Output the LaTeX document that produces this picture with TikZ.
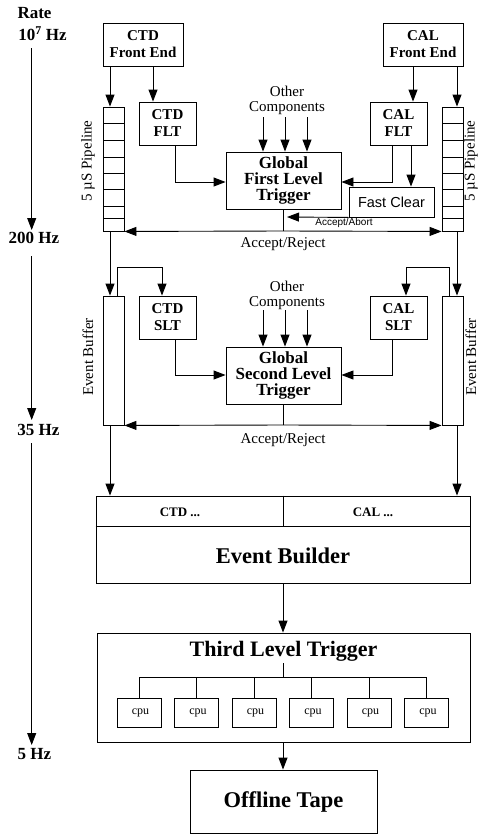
\documentclass[tikz,border=0pt]{standalone}
\usepackage{fontspec}
\setmainfont{Liberation Serif}
\setsansfont{Liberation Sans}
\usetikzlibrary{arrows.meta}
\begin{document}
\begin{tikzpicture}[x=1pt,y=-1pt,
  line width=0.9pt,
  arr/.style={-{Triangle[length=12pt,width=9pt]}},
  box/.style={draw, rectangle, inner sep=0pt, align=center},
  smallbox/.style={box, minimum width=57pt, minimum height=43pt, font=\fontsize{15}{17}\selectfont\bfseries},
  febox/.style={box, minimum width=80pt, minimum height=43pt, font=\fontsize{15}{17}\selectfont\bfseries},
  glbox/.style={box, minimum width=115pt, minimum height=57pt, font=\fontsize{17}{16}\selectfont\bfseries},
  tallbox/.style={box, minimum width=21pt},
  plain/.style={font=\fontsize{15}{15}\selectfont, align=center, inner sep=0pt},
  ratelbl/.style={font=\fontsize{17}{19}\selectfont\bfseries, inner sep=0pt},
  bigbold/.style={font=\fontsize{22.5}{24}\selectfont\bfseries, inner sep=0pt},
  cpubox/.style={box, minimum width=44pt, minimum height=29pt, font=\fontsize{12}{14}\selectfont},
]
\useasboundingbox (0,0) rectangle (479,835);

% ---------- helper coordinates ----------
\coordinate (xa) at (110,0);
\coordinate (xb) at (153,0);
\coordinate (xc) at (175,0);
\coordinate (xd) at (392,0);
\coordinate (xe) at (413,0);
\coordinate (xf) at (457,0);
\coordinate (xg) at (411,0);
\coordinate (xh) at (117,0);
\coordinate (xi) at (162,0);
\coordinate (xj) at (449,0);
\coordinate (xk) at (406,0);
\coordinate (xm) at (283,0);
\coordinate (y1) at (0,182);
\coordinate (y2) at (0,267);
\coordinate (y3) at (0,375);
\coordinate (yar1) at (0,231);
\coordinate (yar2) at (0,425);
\coordinate (ytree) at (0,677);

% ---------- Rate column ----------
\node[ratelbl] (rate) at (34.5,13) {Rate};
\node[ratelbl] (r107) at (42.5,34) {10\textsuperscript{7} Hz};
\node[ratelbl] (r200) at (34,237.5) {200 Hz};
\node[ratelbl] (r35) at (38.5,430) {35 Hz};
\node[ratelbl] (r5) at (34.5,754) {5 Hz};
\coordinate (ra1) at (31.7,48);  \coordinate (rb1) at (31.7,230);
\coordinate (ra2) at (31.7,256); \coordinate (rb2) at (31.7,420);
\coordinate (ra3) at (31.7,443); \coordinate (rb3) at (31.7,745);
\draw[arr] (ra1) -- (rb1);
\draw[arr] (ra2) -- (rb2);
\draw[arr] (ra3) -- (rb3);

% ---------- First level ----------
\node[febox] (ctdfe) at (143,44.5) {CTD\\Front End};
\node[febox] (calfe) at (423,44.5) {CAL\\Front End};
\node[smallbox] (ctdflt) at (167.5,123.5) {CTD\\FLT};
\node[smallbox] (calflt) at (398.5,123.5) {CAL\\FLT};
\node[glbox] (gflt) at (283.5,180.5) {Global\\First Level\\Trigger};
\node[box, minimum width=85pt, minimum height=30pt, font=\sffamily\fontsize{14.5}{16}\selectfont] (fc) at (391.5,202) {Fast Clear};

\node[tallbox, minimum height=124pt] (pipeL) at (113.5,169) {};
\node[tallbox, minimum height=124pt] (pipeR) at (452.5,169) {};
\foreach \yy in {123,140,157,173,189,206,218} {
  \draw (103,\yy) -- (124,\yy);
  \draw (442,\yy) -- (463,\yy);
}
\node[plain, rotate=90] (plL) at (88,161) {5 µS Pipeline};
\node[plain, rotate=90] (plR) at (471,161) {5 µS Pipeline};

\draw[arr] (ctdfe.south -| xa) -- (pipeL.north -| xa);
\draw[arr] (ctdfe.south -| xb) -- (ctdflt.north -| xb);
\draw[arr] (calfe.south -| xe) -- (calflt.north -| xe);
\draw[arr] (calfe.south -| xf) -- (pipeR.north -| xf);
\draw[arr] (ctdflt.south -| xc) |- (gflt.west |- y1);
\draw[arr] (calflt.south -| xd) |- (gflt.east |- y1);
\draw[arr] (calflt.south -| xg) -- (fc.north -| xg);

\node[plain] (oc1) at (287,100) {Other\\Components};
\foreach \xx in {263,285,307} {
  \coordinate (oa\xx) at (\xx,117);
  \draw[arr] (oa\xx) -- (oa\xx |- gflt.north);
}

\coordinate (aaend) at (287,217);
\draw[arr] (fc.south west) -- (aaend);
\node[font=\sffamily\fontsize{10}{12}\selectfont, inner sep=0pt] (aa) at (344,222.5) {Accept/Abort};

\draw (gflt.south -| xm) -- (xm |- yar1);
\draw[arr] (xm |- yar1) -- (pipeL.south east);
\draw[arr] (xm |- yar1) -- (pipeR.south west);
\node[plain] (ar1) at (283,244) {Accept/Reject};

% ---------- Second level ----------
\node[tallbox, minimum height=129pt] (ebL) at (113.5,360.5) {};
\node[tallbox, minimum height=129pt] (ebR) at (452.5,360.5) {};
\node[plain, rotate=90] (ebLt) at (88,357) {Event Buffer};
\node[plain, rotate=90] (ebRt) at (471,357) {Event Buffer};
\node[smallbox] (ctdslt) at (167.5,317.5) {CTD\\SLT};
\node[smallbox] (calslt) at (398.5,317.5) {CAL\\SLT};
\node[glbox] (gslt) at (283.5,375.5) {Global\\Second Level\\Trigger};

\draw[arr] (pipeL.south -| xa) -- (ebL.north -| xa);
\draw[arr] (pipeR.south -| xf) -- (ebR.north -| xf);
\draw[arr] (ebL.north -| xh) -- (xh |- y2) -| (ctdslt.north -| xi);
\draw[arr] (ebR.north -| xj) -- (xj |- y2) -| (calslt.north -| xk);
\draw[arr] (ctdslt.south -| xc) |- (gslt.west |- y3);
\draw[arr] (calslt.south -| xd) |- (gslt.east |- y3);

\node[plain] (oc2) at (287,295) {Other\\Components};
\foreach \xx in {263,285,307} {
  \coordinate (ob\xx) at (\xx,310);
  \draw[arr] (ob\xx) -- (ob\xx |- gslt.north);
}

\draw (gslt.south -| xm) -- (xm |- yar2);
\draw[arr] (xm |- yar2) -- (ebL.south east);
\draw[arr] (xm |- yar2) -- (ebR.south west);
\node[plain] (ar2) at (283,440) {Accept/Reject};

% ---------- Event builder ----------
\node[box, minimum width=374pt, minimum height=87pt] (evb) at (283,539.5) {};
\coordinate (ydiv) at (0,526);
\draw (evb.west |- ydiv) -- (evb.east |- ydiv);
\draw (evb.north -| xm) -- (xm |- ydiv);
\node[font=\fontsize{13}{15}\selectfont\bfseries, inner sep=0pt] (ctddots) at (180,512) {CTD ...};
\node[font=\fontsize{13}{15}\selectfont\bfseries, inner sep=0pt] (caldots) at (373,512) {CAL ...};
\node[bigbold] (evbt) at (283,556) {Event Builder};

\draw[arr] (ebL.south -| xa) -- (evb.north -| xa);
\draw[arr] (ebR.south -| xf) -- (evb.north -| xf);

% ---------- Third level ----------
\node[box, minimum width=373pt, minimum height=109pt] (tlt) at (283.5,687.5) {};
\node[font=\fontsize{22}{24}\selectfont\bfseries, inner sep=0pt] (tltt) at (283.5,651) {Third Level Trigger};
\draw[arr] (evb.south -| xm) -- (tlt.north -| xm);

\foreach \i in {0,...,5} {
  \node[cpubox] (cpu\i) at ({139+57.5*\i},712.5) {\hspace{3pt}cpu};
}
\coordinate (tr) at (283,663);
\draw (tr) -- (tr |- ytree);
\draw (cpu0.north |- ytree) -- (cpu5.north |- ytree);
\foreach \i in {0,...,5} {
  \draw (cpu\i.north |- ytree) -- (cpu\i.north);
}

\node[box, minimum width=187pt, minimum height=63pt, font=\fontsize{22.5}{24}\selectfont\bfseries] (tape) at (283.5,801.5) {Offline Tape};
\draw[arr] (tlt.south -| xm) -- (tape.north -| xm);
\end{tikzpicture}
\end{document}
